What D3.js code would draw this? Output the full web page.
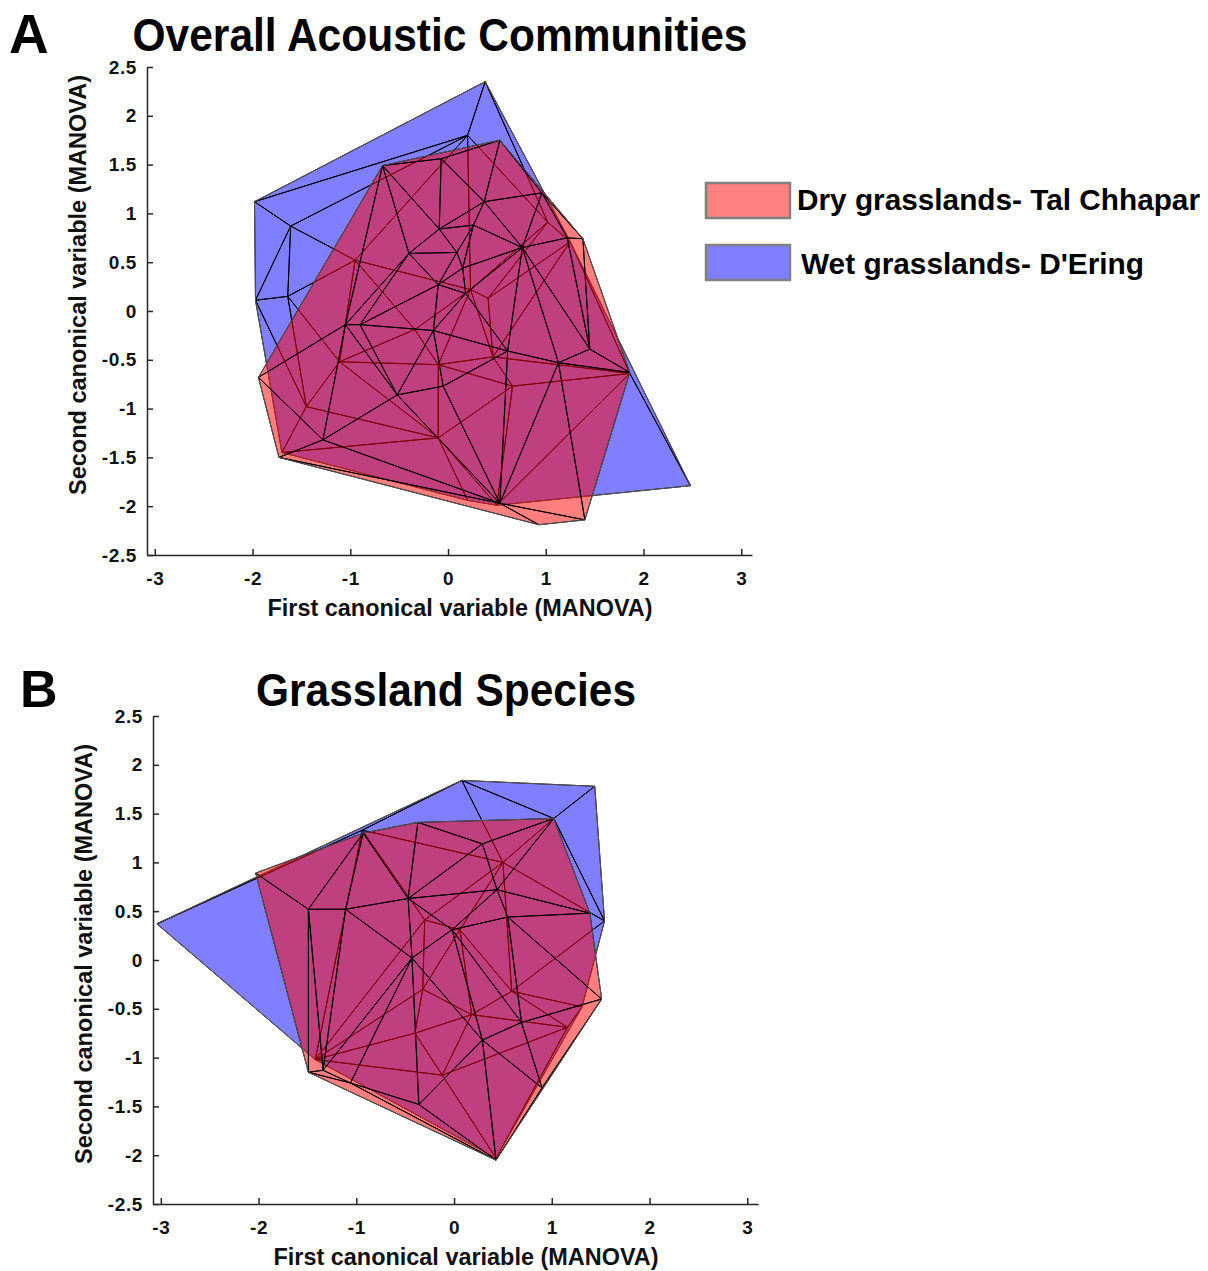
<!DOCTYPE html>
<html>
<head>
<meta charset="utf-8">
<script src="https://cdn.jsdelivr.net/npm/d3@7"></script>
<style>
  body { margin: 0; background: #fff; }
  svg { font-family: "Liberation Sans", Arial, sans-serif; font-weight: bold; }
  .axis path, .axis line { stroke: #262626; stroke-width: 1.5; }
</style>
</head>
<body>
<svg id="chart" width="1208" height="1271"></svg>
<script>
// tick values
const xTicks = [-3, -2, -1, 0, 1, 2, 3];
const yTicks = [-2.5, -2, -1.5, -1, -0.5, 0, 0.5, 1, 1.5, 2, 2.5];

// Panel A – overall acoustic communities (canonical var 1, canonical var 2)
const wetA = [
  [0.38, 2.35], [-1.98, 1.12], [-1.97, 0.11], [-1.70, -1.45], [0.50, -1.99],
  [2.48, -1.79], [1.86, -0.64], [0.20, 1.80], [-1.61, 0.87], [-1.64, 0.15],
  [-0.95, 0.52], [-1.11, -0.52], [-1.45, -0.98], [-0.10, -1.30], [0.20, -1.94],
  [-0.10, -0.55], [0.46, -0.47], [0.66, -0.77], [1.02, 0.91], [1.25, 0.71],
  [0.41, 0.13], [-0.34, -0.19], [0.23, 0.22]
];
const dryA = [
  [-0.67, 1.49], [0.53, 1.75], [0.96, 1.21], [1.38, 0.74], [1.86, -0.63],
  [1.40, -2.14], [0.93, -2.19], [-1.73, -1.50], [-1.94, -0.68], [-0.07, 1.56],
  [0.37, 1.12], [0.26, 0.88], [0.76, 0.65], [1.22, 0.75], [-0.09, 0.84],
  [-0.40, 0.59], [0.09, 0.60], [-0.10, 0.27], [0.15, 0.44], [-1.05, -0.14],
  [-0.90, -0.14], [-0.15, -0.20], [-0.05, -0.77], [-0.52, -0.86], [-1.28, -1.32],
  [0.61, -0.41], [1.13, -0.53], [1.45, -0.39], [0.53, -1.97], [0.18, 0.18]
];

// Panel B – grassland species
const wetB = [
  [-3.04, 0.37], [0.08, 1.84], [1.44, 1.78], [1.54, 0.40], [1.31, -0.48],
  [0.43, -2.03], [-1.42, -1.02], [1.02, 1.45], [-0.94, 1.33], [0.50, 1.00],
  [-0.30, 0.41], [0.06, 0.31], [-0.32, -0.30], [0.59, -0.32], [0.18, -0.56],
  [-0.40, -0.75], [-0.12, -1.18], [1.16, -0.69]
];
const dryB = [
  [-2.03, 0.89], [1.02, 1.45], [1.39, 0.48], [1.51, -0.40], [0.43, -2.05],
  [-1.49, -1.15], [-0.93, 1.30], [-0.37, 1.41], [0.29, 1.19], [0.44, 0.72],
  [-0.47, 0.63], [-1.49, 0.52], [-1.11, 0.52], [-0.02, 0.31], [0.55, 0.44],
  [-0.43, 0.02], [0.69, -0.64], [0.29, -0.82], [0.90, -1.31], [-0.36, -1.48],
  [-1.34, -1.13], [-1.06, -1.26]
];

const groups = ['Dry grasslands- Tal Chhapar', "Wet grasslands- D'Ering"];
const xLabel = 'First canonical variable (MANOVA)';
const yLabel = 'Second canonical variable (MANOVA)';

const svg = d3.select('#chart');

// stretch / squeeze a text to the width it has in the figure
const fitText = (sel, w) => sel.attr('textLength', w).attr('lengthAdjust', 'spacingAndGlyphs');

const drawMesh = (g, pts, x, y, color) => {
  const delaunay = d3.Delaunay.from(pts, (d) => x(d[0]), (d) => y(d[1]));
  const tris = [];
  for (let i = 0; i < delaunay.triangles.length; i += 3) {
    tris.push([delaunay.triangles[i], delaunay.triangles[i + 1], delaunay.triangles[i + 2]]);
  }
  const path = (t) => 'M' + t.map((k) => [x(pts[k][0]), y(pts[k][1])].join(',')).join('L') + 'Z';
  // faces first, then edges so the edges of this group stay black
  g.append('g').selectAll('path')
    .data(tris)
    .enter()
    .append('path')
    .attr('d', path)
    .attr('fill', color)
    .attr('fill-opacity', 0.5)
    .attr('stroke', 'none');
  g.append('g').selectAll('path')
    .data(tris)
    .enter()
    .append('path')
    .attr('d', path)
    .attr('fill', 'none')
    .attr('stroke', '#000')
    .attr('stroke-width', 0.95)
    .attr('stroke-linejoin', 'round');
  g.append('path')
    .attr('d', delaunay.renderHull())
    .attr('fill', 'none')
    .attr('stroke', '#555')
    .attr('stroke-width', 1);
};

const styleAxis = (ax) => {
  ax.attr('font-size', 19)
    .attr('font-family', '"Liberation Sans", Arial, sans-serif')
    .attr('font-weight', 'bold');
  ax.selectAll('text')
    .attr('fill', '#111')
    .attr('letter-spacing', 0.6)
    .text((d) => String(d));
};

const drawPanel = (cfg) => {
  const x = d3.scaleLinear().domain([-3.08, 3.11]).range([cfg.left, cfg.left + 605]);
  const y = d3.scaleLinear().domain([-2.5, 2.5]).range([cfg.top + 488, cfg.top]);

  const g = svg.append('g');
  drawMesh(g, cfg.wet, x, y, '#0000ff');
  drawMesh(g, cfg.dry, x, y, '#ff0000');

  // x axis
  g.append('g')
    .attr('class', 'axis')
    .attr('transform', `translate(0, ${cfg.top + 488})`)
    .call(d3.axisBottom(x).tickValues(xTicks).tickSizeInner(-6).tickSizeOuter(0)
      .tickPadding(17))
    .call(styleAxis);

  // y axis
  g.append('g')
    .attr('class', 'axis')
    .attr('transform', `translate(${cfg.left}, 0)`)
    .call(d3.axisLeft(y).tickValues(yTicks).tickSizeInner(-6).tickSizeOuter(0)
      .tickPadding(10))
    .call(styleAxis);

  fitText(g.append('text')
    .attr('x', cfg.left + 313)
    .attr('y', cfg.top + 549)
    .attr('text-anchor', 'middle')
    .attr('font-size', 23)
    .attr('fill', '#111')
    .text(xLabel), 385);

  fitText(g.append('text')
    .attr('transform', `translate(${cfg.left - 61}, ${cfg.top + cfg.yLabelMid}) rotate(-90)`)
    .attr('text-anchor', 'middle')
    .attr('font-size', 23)
    .attr('fill', '#111')
    .text(yLabel), 420);

  fitText(g.append('text')
    .attr('x', cfg.titleX)
    .attr('y', cfg.titleY)
    .attr('text-anchor', 'middle')
    .attr('font-size', 46)
    .attr('fill', '#000')
    .text(cfg.title), cfg.titleW);

  g.append('text')
    .attr('x', cfg.letterX)
    .attr('y', cfg.letterY)
    .attr('font-size', cfg.letterSize)
    .attr('fill', '#000')
    .text(cfg.letter);
};

drawPanel({ left: 147, top: 67, wet: wetA, dry: dryA, title: 'Overall Acoustic Communities',
  titleX: 440, titleY: 51, titleW: 615, yLabelMid: 218,
  letter: 'A', letterX: 9, letterY: 53, letterSize: 55 });
drawPanel({ left: 153, top: 716, wet: wetB, dry: dryB, title: 'Grassland Species',
  titleX: 446, titleY: 706, titleW: 380, yLabelMid: 238,
  letter: 'B', letterX: 20, letterY: 707, letterSize: 52 });

// legend
const legend = svg.append('g');
const legendColors = ['#ff8080', '#8080ff'];
groups.forEach((name, i) => {
  legend.append('rect')
    .attr('x', 706)
    .attr('y', 183 + i * 62)
    .attr('width', 84)
    .attr('height', 35)
    .attr('fill', legendColors[i])
    .attr('stroke', '#808080')
    .attr('stroke-width', 2.5);
  fitText(legend.append('text')
    .attr('x', i === 0 ? 797 : 801)
    .attr('y', 210 + i * 64)
    .attr('font-size', 30)
    .attr('fill', '#000')
    .text(name), i === 0 ? 403 : 343);
});
</script>
</body>
</html>
